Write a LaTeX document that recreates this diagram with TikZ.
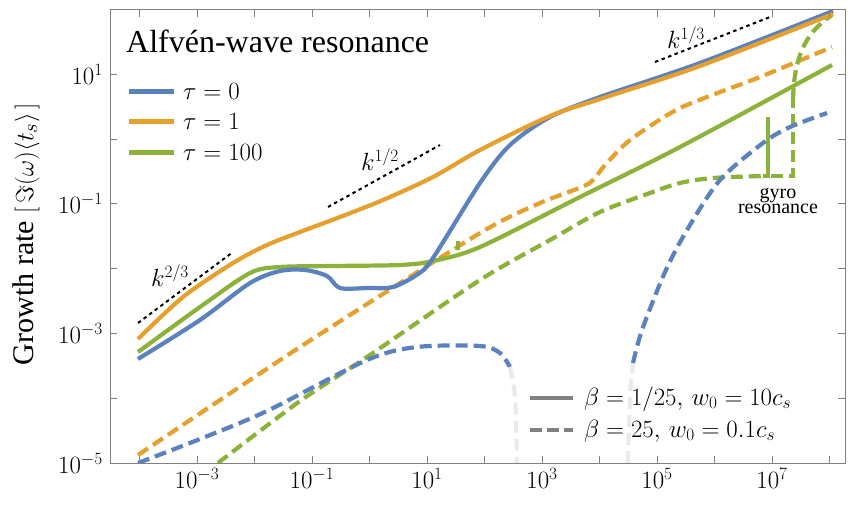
\documentclass[tikz,border=0pt]{standalone}
\usepackage{fontspec}
\setmainfont{Liberation Serif}
\begin{document}
\begin{tikzpicture}[x=1pt,y=-1pt,
  cb/.style={draw={rgb,255:red,91;green,130;blue,191}},
  co/.style={draw={rgb,255:red,229;green,160;blue,46}},
  cg/.style={draw={rgb,255:red,141;green,178;blue,58}},
  sol/.style={line width=4.2pt},
  dsh/.style={line width=4.2pt,dash pattern=on 12pt off 6pt},
  pw/.style={line width=2pt,dash pattern=on 3.5pt off 3.5pt,black},
  tick/.style={draw=gray,line width=0.8pt},
  lab/.style={font=\fontsize{27}{27}\selectfont,inner sep=1pt}]
\useasboundingbox (0,0) rectangle (857,507);
\begin{scope}
\clip (110,9.5) rectangle (845,463);
% orange dashed
\draw[co,dsh] plot[smooth,tension=0.4] coordinates {(138,455)(300,347)(480,233)(540,203)(588,184)(605,165)(630,140)(680,108)(760,77)(832,47)};
% green dashed
\draw[cg,dsh] plot[smooth,tension=0.5] coordinates {(218,463)(300,401)(367,357)(480,280)(550,240)(600,212)(650,193)(680,183)(713,178)(763,176)};
\draw[cg,dsh] (763,176) -- (768,176) -- (768,117) -- (768,176) -- (793,176) -- (793,100);
\draw[cg,dsh] (793,100) .. controls (794,50) and (810,30) .. (832,15);
% blue dashed
\draw[cb,dsh] plot[smooth,tension=0.5] coordinates {(138,463)(200,439)(267,411)(367,360)(417,347)(480,346)(500,353)(510,367)};
\draw[draw=blue!10!gray!15,dsh] plot[smooth,tension=0.5] coordinates {(510,367)(515,397)(517,463)};
\draw[draw=blue!10!gray!15,dsh] plot[smooth,tension=0.5] coordinates {(628,463)(630,397)(633,363)};
\draw[cb,dsh] plot[smooth,tension=0.5] coordinates {(633,363)(642,330)(665,272)(687,230)(720,180)(763,143)(790,127)(827,113)};
% solids
\draw[cg,sol] plot[smooth,tension=0.5] coordinates {(138,352)(200,307)(250,273)(280,267)(333,266)(400,265)(433,261)(480,247)(580,197)(680,147)(832,65)};
\draw[cg,sol] (458,250) -- (458,241);
\draw[cb,sol] plot[smooth,tension=0.5] coordinates {(138,359)(200,320)(250,283)(280,271)(305,270)(327,276)(340,288)(367,288)(393,287)(418,274)(433,258)(480,183)(510,145)(550,117)(600,97)(700,63)(833,11)};
\draw[co,sol] plot[smooth,tension=0.5] coordinates {(138,339)(183,297)(233,263)(267,245)(300,232)(340,217)(383,200)(433,177)(480,150)(550,116)(600,99)(700,66)(833,14)};
\end{scope}
% power laws
\draw[pw] (138,323) -- (233,252);
\draw[pw] (328,207) -- (440,145);
\draw[pw] (655,62) -- (770,17);
\node[lab] (k23) at (170,276) {$k^{2/3}$};
\node[lab] (k12) at (380,160) {$k^{1/2}$};
\node[lab] (k13) at (686,38) {$k^{1/3}$};
\node[font=\fontsize{20}{20}\selectfont,align=center,inner sep=0pt] (gyro) at (778,201) {gyro\\[-5pt]resonance};
% frame and ticks
\draw[gray,line width=0.9pt] (110,9.5) rectangle (845,463);
\foreach \d in {-4,...,8} {
  \pgfmathsetmacro\xx{369.5+57.5*\d}
  \draw[tick] (\xx,463) -- (\xx,456);
  \draw[tick] (\xx,9.5) -- (\xx,16.5);
}
\foreach \d in {-5,...,1} {
  \pgfmathsetmacro\yy{463-64.8*(\d+5)}
  \draw[tick] (110,\yy) -- (117,\yy);
  \draw[tick] (845,\yy) -- (838,\yy);
}
\foreach \d/\n in {-3/xa,-1/xb,1/xc,3/xd,5/xe,7/xf} {
  \pgfmathsetmacro\xx{369.5+57.5*\d}
  \node[lab,anchor=north] (\n) at (\xx,467) {$10^{\d}$};
}
\foreach \d/\n in {-5/ya,-3/yb,-1/yc,1/yd} {
  \pgfmathsetmacro\yy{463-64.8*(\d+5)}
  \node[lab,anchor=east] (\n) at (104,\yy) {$10^{\d}$};
}
\node[rotate=90,font=\fontsize{30}{30}\selectfont] (ylab) at (26,234) {Growth rate $[\,\Im(\omega)\langle t_s\rangle\,]$};
% legend
\node[anchor=west,font=\fontsize{32}{32}\selectfont,inner sep=0pt] (title) at (126,41) {Alfvén-wave resonance};
\draw[cb,line width=5pt] (129,91) -- (174,91);
\draw[co,line width=5pt] (129,121) -- (174,121);
\draw[cg,line width=5pt] (129,152) -- (174,152);
\node[lab,anchor=west,font=\fontsize{29}{29}\selectfont] (t0) at (182,91) {$\tau=0$};
\node[lab,anchor=west,font=\fontsize{29}{29}\selectfont] (t1) at (182,121) {$\tau=1$};
\node[lab,anchor=west,font=\fontsize{29}{29}\selectfont] (t2) at (182,152) {$\tau=100$};
\draw[gray,line width=4.2pt] (530,398) -- (573,398);
\draw[gray,line width=4.2pt,dash pattern=on 12pt off 5pt] (530,430) -- (573,430);
\node[lab,anchor=west] (b1) at (583,399) {$\beta=1/25,\,w_0=10c_s$};
\node[lab,anchor=west] (b2) at (583,431) {$\beta=25,\,w_0=0.1c_s$};
\end{tikzpicture}
\end{document}
